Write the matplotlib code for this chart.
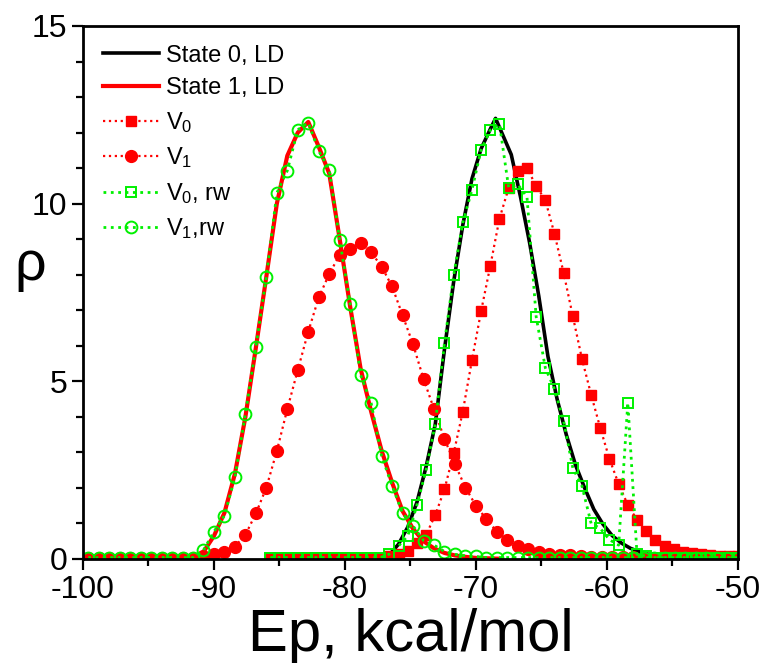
import numpy as np
import matplotlib
matplotlib.use("Agg")
import matplotlib.pyplot as plt
from matplotlib.ticker import MultipleLocator

plt.rcParams['font.family'] = ['Liberation Sans', 'DejaVu Sans']
plt.rcParams['mathtext.fontset'] = 'custom'
plt.rcParams['mathtext.rm'] = 'Liberation Sans'
plt.rcParams['mathtext.it'] = 'Liberation Sans'
plt.rcParams['axes.unicode_minus'] = False

# grid of the circle series (V1, V1 rw) and square series (V0, V0 rw)
x_circ = np.round(np.arange(63) * 0.8 - 99.6, 2)
x_sq = np.round(np.arange(52) * 0.7 - 85.7, 2)

v1 = [0.04] * 11 + [0.08, 0.13, 0.21, 0.35, 0.68, 1.28, 2.01, 3.04, 4.22, 5.32,
                    6.40, 7.36, 8.02, 8.56, 8.72, 8.89, 8.63, 8.23, 7.67, 6.86,
                    6.04, 5.07, 4.22, 3.38, 2.67, 2.01, 1.50, 1.12, 0.77, 0.54,
                    0.36, 0.27, 0.20, 0.15, 0.12, 0.10, 0.08] + [0.05] * 5 + [0.04] * 10
v1_rw = [0.04] * 11 + [0.25, 0.77, 1.22, 2.30, 4.08, 5.97, 7.94, 10.30, 10.93, 12.08,
                       12.28, 11.48, 10.96, 8.98, 7.17, 5.18, 4.39, 2.90, 2.06, 1.29,
                       0.93, 0.52, 0.39, 0.21, 0.13, 0.09, 0.07] + [0.04] * 25

v0 = [0.04] * 13 + [0.08, 0.15, 0.22, 0.44, 0.68, 1.24, 1.96, 2.97, 4.15, 5.60,
                    6.98, 8.25, 9.58, 10.44, 10.93, 11.00, 10.50, 10.10, 9.15, 8.05,
                    6.83, 5.63, 4.62, 3.68, 2.81, 2.11, 1.52, 1.10, 0.79, 0.54,
                    0.37, 0.27, 0.20, 0.16, 0.13, 0.11, 0.09, 0.08, 0.07]
v0_rw = [0.04] * 13 + [0.14, 0.37, 0.65, 1.52, 2.51, 3.81, 6.08, 7.98, 9.47, 10.39,
                       11.52, 12.07, 12.24, 10.45, 10.54, 10.19, 6.82, 5.38, 4.78, 3.88,
                       2.56, 2.05, 1.00, 0.86, 0.54, 0.39, 4.40, 0.13, 0.08] + [0.04] * 10

# LD curves
x_ld1 = [-92.4, -91.6, -90.8, -90.0, -89.2, -88.4, -87.6, -86.8, -86.0, -85.2,
         -84.4, -83.6, -82.8, -82.0, -81.2, -80.4, -79.6, -78.8, -78.0, -77.2,
         -76.4, -75.6, -74.8, -74.0, -73.2, -72.4, -71.6, -70.8, -70.0, -69.2, -68.4]
ld1 = [0.0, 0.02, 0.2, 0.65, 1.3, 2.4, 4.0, 5.95, 7.95, 10.0,
       11.35, 12.0, 12.3, 11.6, 10.85, 9.0, 7.1, 5.35, 4.15, 3.05,
       2.15, 1.35, 0.85, 0.5, 0.3, 0.17, 0.1, 0.06, 0.03, 0.02, 0.01]

x_ld0 = [-78.0, -77.3, -76.6, -75.9, -75.2, -74.5, -73.8, -73.1, -72.4, -71.7,
         -71.0, -70.3, -69.6, -68.9, -68.5, -67.3, -66.6, -65.9, -65.2, -64.5,
         -63.8, -63.1, -62.4, -61.7, -61.0, -60.3, -59.6, -58.9, -58.2, -57.5,
         -56.8, -56.1, -55.4, -54.7, -54.0]
ld0 = [0.0, 0.02, 0.12, 0.42, 0.9, 1.6, 2.6, 3.8, 5.9, 7.8,
       9.4, 10.7, 11.55, 12.1, 12.4, 11.38, 10.2, 8.9, 7.4, 5.7,
       4.5, 3.5, 2.65, 2.0, 1.4, 0.98, 0.66, 0.45, 0.3, 0.2,
       0.13, 0.08, 0.05, 0.03, 0.02]

red = '#ff0000'
green = '#00f000'

fig = plt.figure(figsize=(7.65, 6.7), dpi=100)
ax = fig.add_axes([0.1085, 0.1657, 0.856, 0.7955])

ax.plot(x_ld0, ld0, color='black', lw=2.6, label='State 0, LD')
ax.plot(x_ld1, ld1, color=red, lw=3.0, label='State 1, LD')
ax.plot(x_sq, v0, color=red, ls=':', lw=1.6, marker='s', ms=7.5,
        mfc=red, mec=red, label='V$_0$')
ax.plot(x_circ, v1, color=red, ls=':', lw=1.6, marker='o', ms=8.5,
        mfc=red, mec=red, label='V$_1$')
ax.plot(x_sq, v0_rw, color=green, ls=':', lw=2.0, marker='s', ms=7,
        mfc='none', mec=green, mew=1.4, label='V$_0$, rw')
ax.plot(x_circ, v1_rw, color=green, ls=':', lw=2.0, marker='o', ms=8.5,
        mfc='none', mec=green, mew=1.4, label='V$_1$,rw')

ax.set_xlim(-100, -50)
ax.set_ylim(0, 15)
ax.xaxis.set_major_locator(MultipleLocator(10))
ax.xaxis.set_minor_locator(MultipleLocator(5))
ax.yaxis.set_major_locator(MultipleLocator(5))
ax.yaxis.set_minor_locator(MultipleLocator(1))
ax.tick_params(which='both', direction='out', width=1.6, labelsize=23)
ax.tick_params(which='major', length=8)
ax.tick_params(which='minor', length=5)
for s in ax.spines.values():
    s.set_linewidth(2)

ax.set_xlabel('Ep, kcal/mol', fontsize=43, labelpad=2)
ax.set_ylabel('ρ', fontsize=40, rotation=0, va='center', ha='center')
ax.yaxis.set_label_coords(-0.081, 0.55)

ax.legend(loc='upper left', bbox_to_anchor=(0.03, 0.965), frameon=False,
          fontsize=17, handlelength=2.4, handletextpad=0.3, labelspacing=0.45,
          borderpad=0, borderaxespad=0)

fig.savefig('out.png', dpi=100)
